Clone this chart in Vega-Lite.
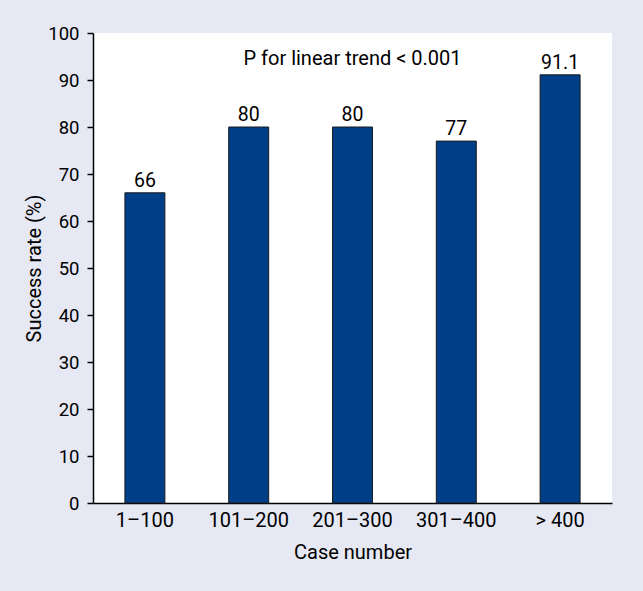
{
  "$schema": "https://vega.github.io/schema/vega-lite/v6.json",
  "width": 519,
  "height": 470,
  "autosize": {"type": "none"},
  "padding": {"left": 93, "top": 33, "right": 31, "bottom": 88},
  "background": "#e6e8f4",
  "config": {
    "view": {"fill": "white", "stroke": null},
    "font": "Roboto",
    "axis": {"domainColor": "black", "tickColor": "black", "labelColor": "black", "titleColor": "black", "grid": false, "labelFont": "Roboto", "titleFont": "Roboto", "titleFontWeight": "normal", "domainWidth": 1.5, "tickWidth": 1.5}
  },
  "data": {
    "values": [
      {"case": "1–100", "rate": 66, "label": "66"},
      {"case": "101–200", "rate": 80, "label": "80"},
      {"case": "201–300", "rate": 80, "label": "80"},
      {"case": "301–400", "rate": 77, "label": "77"},
      {"case": "> 400", "rate": 91.1, "label": "91.1"}
    ]
  },
  "encoding": {
    "x": {
      "field": "case", "type": "nominal", "sort": null,
      "scale": {"paddingInner": 0.615, "paddingOuter": 0.3075},
      "axis": {"title": "Case number", "labelAngle": 0, "ticks": false, "labelPadding": 7, "labelFontSize": 20, "titleFontSize": 20, "titlePadding": 12}
    }
  },
  "layer": [
    {
      "mark": {"type": "bar", "color": "#003f87", "stroke": "#1a1a1a", "strokeWidth": 1},
      "encoding": {
        "y": {
          "field": "rate", "type": "quantitative",
          "scale": {"domain": [0, 100]},
          "axis": {"title": "Success rate (%)", "values": [0, 10, 20, 30, 40, 50, 60, 70, 80, 90, 100], "tickSize": 6, "labelPadding": 8, "labelFontSize": 18.5, "titleFontSize": 20, "titlePadding": 3}
        }
      }
    },
    {
      "mark": {"type": "text", "baseline": "alphabetic", "dy": -6, "fontSize": 19.5, "color": "black"},
      "encoding": {
        "y": {"field": "rate", "type": "quantitative"},
        "text": {"field": "label"}
      }
    },
    {
      "data": {"values": [{"note": "P for linear trend < 0.001", "pos": 93.2}]},
      "mark": {"type": "text", "baseline": "alphabetic", "fontSize": 20, "color": "black"},
      "encoding": {
        "x": null,
        "y": {"field": "pos", "type": "quantitative"},
        "text": {"field": "note"}
      }
    }
  ]
}
